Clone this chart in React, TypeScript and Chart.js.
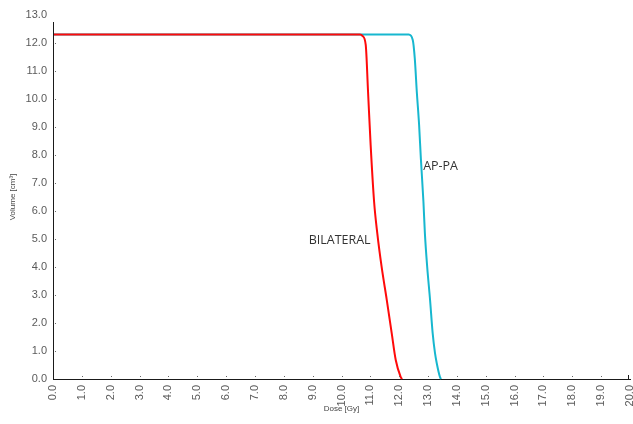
import React, { useEffect, useRef } from "react";
import { Chart, registerables } from "chart.js";

Chart.register(...registerables);

// Dose-volume histogram data (Dose in Gy, Volume in cm³)
const bilateralDose = [0, 10.64, 10.73, 10.84, 10.92, 11.01, 11.13, 11.24, 11.39, 11.57, 11.74, 11.88, 12.05, 12.1];
const bilateralVolume = [12.3, 12.3, 12.25, 11.93, 10.26, 8.36, 6.33, 5.21, 4.01, 2.82, 1.64, 0.68, 0.08, 0];

const apPaDose = [0, 12.33, 12.47, 12.54, 12.61, 12.69, 12.75, 12.84, 12.89, 12.97, 13.07, 13.16, 13.24, 13.3, 13.41, 13.45];
const apPaVolume = [12.3, 12.3, 12.11, 11.45, 10.26, 9.07, 7.89, 6.33, 5.21, 4.01, 2.82, 1.64, 0.93, 0.57, 0.08, 0];

const seriesNames = ["BILATERAL", "AP-PA"];
const seriesColors = ["#ff0a0a", "#17b7cf"];

// Text labels placed in data coordinates
const labelTexts = ["AP-PA", "BILATERAL"];
const labelDose = [12.83, 11.01];
const labelVolume = [7.58, 4.95];
const labelAlign: CanvasTextAlign[] = ["left", "right"];

const xMin = 0;
const xMax = 20;
const yMin = 0;
const yMax = 13;
const yAxisLineTop = 12.75;

const xTitle = "Dose [Gy]";
const yTitle = "Volume [cm³]";

const toPoints = (xs: number[], ys: number[]) => xs.map((x, i) => ({ x, y: ys[i] }));

const decorPlugin = {
  id: "decor",
  afterDraw(chart: any) {
    const { ctx, chartArea, scales } = chart;
    const xs = scales.x;
    const ys = scales.y;
    ctx.save();
    // y axis line
    ctx.strokeStyle = "#1a1a1a";
    ctx.lineWidth = 1;
    ctx.beginPath();
    const topY = Math.round(ys.getPixelForValue(yAxisLineTop));
    ctx.moveTo(Math.round(chartArea.left) + 0.5, topY);
    ctx.lineTo(Math.round(chartArea.left) + 0.5, Math.round(chartArea.bottom) + 1);
    ctx.stroke();
    // end tick at right of x axis
    ctx.beginPath();
    const rx = Math.round(xs.getPixelForValue(xMax)) - 1.5;
    ctx.moveTo(rx, Math.round(chartArea.bottom) - 4);
    ctx.lineTo(rx, Math.round(chartArea.bottom));
    ctx.stroke();
    // inward tick dots
    ctx.fillStyle = "#666";
    xs.ticks.forEach((t: any) => {
      if (t.value <= xMin || t.value >= xMax) return;
      const px = Math.round(xs.getPixelForValue(t.value));
      ctx.fillRect(px, Math.round(chartArea.bottom) - 3, 1, 1);
    });
    ys.ticks.forEach((t: any) => {
      if (t.value <= yMin || t.value >= yMax) return;
      const py = Math.round(ys.getPixelForValue(t.value));
      ctx.fillRect(Math.round(chartArea.left) + 2, py, 1, 1);
    });
    // text labels
    ctx.fillStyle = "#333";
    ctx.font = "12.5px 'Open Sans', sans-serif";
    ctx.textBaseline = "middle";
    labelTexts.forEach((txt, i) => {
      ctx.textAlign = labelAlign[i];
      ctx.fillText(txt, xs.getPixelForValue(labelDose[i]), ys.getPixelForValue(labelVolume[i]));
    });
    ctx.restore();
  },
};

export default function App() {
  const canvasRef = useRef<HTMLCanvasElement | null>(null);

  useEffect(() => {
    document.body.style.margin = "0";
    const canvas = canvasRef.current;
    if (!canvas) return;
    const tickFont = { family: "'Liberation Sans', Arial, sans-serif", size: 11 };
    const titleFont = { family: "'Liberation Sans', Arial, sans-serif", size: 8 };
    const chart = new Chart(canvas, {
      type: "line",
      data: {
        datasets: [
          {
            label: seriesNames[0],
            data: toPoints(bilateralDose, bilateralVolume),
            borderColor: seriesColors[0],
            borderWidth: 2,
            pointRadius: 0,
            cubicInterpolationMode: "monotone",
            fill: false,
            clip: 4,
          },
          {
            label: seriesNames[1],
            data: toPoints(apPaDose, apPaVolume),
            borderColor: seriesColors[1],
            borderWidth: 2,
            pointRadius: 0,
            cubicInterpolationMode: "monotone",
            fill: false,
            clip: 4,
          },
        ],
      },
      options: {
        responsive: false,
        animation: false,
        layout: { padding: { left: 0, right: 3, top: 15, bottom: 0 } },
        plugins: {
          legend: { display: false },
          tooltip: { enabled: false },
        },
        scales: {
          x: {
            type: "linear",
            min: xMin,
            max: xMax,
            grid: { display: false, drawTicks: false },
            border: { display: true, color: "#1a1a1a", width: 1 },
            ticks: {
              stepSize: 1,
              minRotation: 90,
              maxRotation: 90,
              padding: 6,
              color: "#5a5a5a",
              font: tickFont,
              autoSkip: false,
              callback: (v: any) => Number(v).toFixed(1),
            },
            title: {
              display: true,
              text: xTitle,
              color: "#444",
              font: titleFont,
              padding: { top: 0, bottom: 10 },
            },
            afterFit: (s: any) => {
              s.height = 45;
              s.paddingLeft = 0;
              s.paddingRight = 0;
            },
          },
          y: {
            type: "linear",
            min: yMin,
            max: yMax,
            grid: { display: false, drawTicks: false },
            border: { display: false },
            ticks: {
              stepSize: 1,
              padding: 6,
              color: "#5a5a5a",
              font: tickFont,
              autoSkip: false,
              callback: (v: any) => Number(v).toFixed(1),
            },
            title: {
              display: true,
              text: yTitle,
              color: "#444",
              font: titleFont,
              padding: { top: 8, bottom: 0 },
            },
            afterFit: (s: any) => {
              s.width = 53;
            },
          },
        },
      },
      plugins: [decorPlugin],
    });
    return () => chart.destroy();
  }, []);

  return (
    <div style={{ width: 633, height: 424, background: "#fff" }}>
      <canvas ref={canvasRef} width={633} height={424} />
    </div>
  );
}
